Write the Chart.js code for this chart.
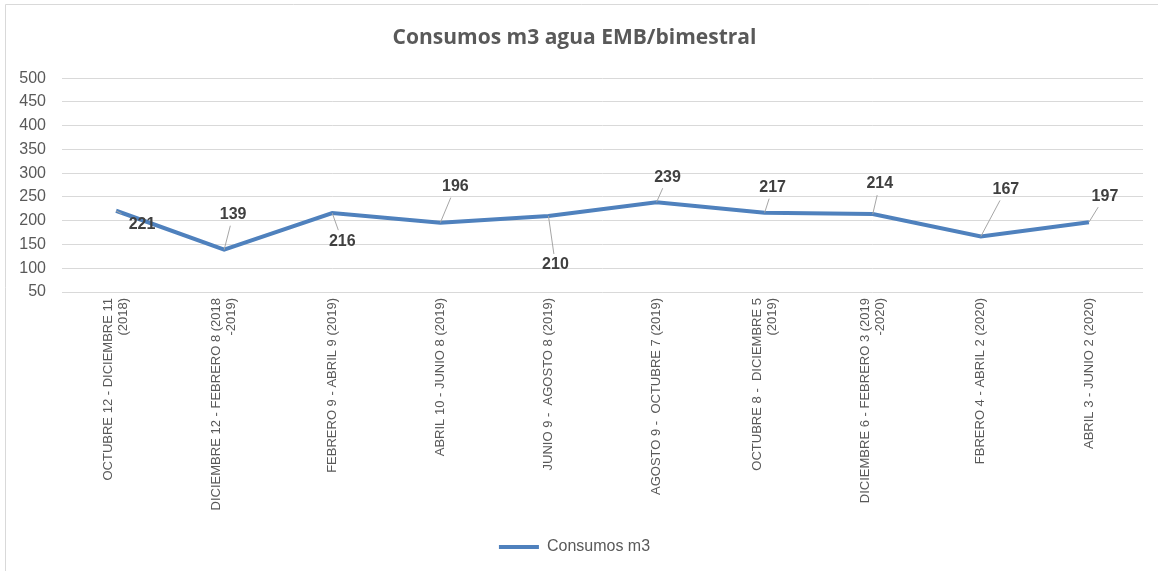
<!DOCTYPE html>
<html>
<head>
<meta charset="utf-8">
<script src="https://cdn.jsdelivr.net/npm/chart.js@4"></script>
<style>
  html, body { margin: 0; padding: 0; background: #fff; }
  #wrap { position: relative; width: 1158px; height: 571px; }
</style>
</head>
<body>
<div id="wrap"><canvas id="chartConsumo" width="1158" height="571"></canvas></div>
<script>
const periodos = [
    ['OCTUBRE 12 - DICIEMBRE 11', '(2018)'],
    ['DICIEMBRE 12 - FEBRERO 8 (2018', '-2019)'],
    ['FEBRERO 9 - ABRIL 9 (2019)'],
    ['ABRIL 10 - JUNIO 8 (2019)'],
    ['JUNIO 9 -  AGOSTO 8 (2019)'],
    ['AGOSTO 9 -  OCTUBRE 7 (2019)'],
    ['OCTUBRE 8 -  DICIEMBRE 5', '(2019)'],
    ['DICIEMBRE 6 - FEBRERO 3 (2019', '-2020)'],
    ['FBRERO 4 - ABRIL 2 (2020)'],
    ['ABRIL 3 - JUNIO 2 (2020)']
];
const consumos = [221, 139, 216, 196, 210, 239, 217, 214, 167, 197];
const yTicks = [50, 100, 150, 200, 250, 300, 350, 400, 450, 500];

// where each value label sits relative to its point (px)
const labelOffsets = [
    [26, 14], [9, -35], [10, 28], [15, -36], [7, 49],
    [11, -25], [8, -25], [7, -30], [25, -47], [16, -26]
];

const lineColor = '#4F81BD';
const textGray = '#595959';
const baseFont = '"Liberation Sans", Arial, sans-serif';

const frame = {
    id: 'frame',
    beforeDraw(chart) {
        const { ctx } = chart;
        ctx.save();
        ctx.fillStyle = '#fff';
        ctx.fillRect(0, 0, chart.width, chart.height);
        ctx.strokeStyle = '#d9d9d9';
        ctx.lineWidth = 1;
        ctx.beginPath();
        ctx.moveTo(5.5, chart.height);
        ctx.lineTo(5.5, 4.5);
        ctx.lineTo(chart.width, 4.5);
        ctx.stroke();
        ctx.restore();
    }
};

// category labels, rotated, with wrapped lines centred on the tick
const periodLabels = {
    id: 'periodLabels',
    afterDraw(chart) {
        const { ctx, chartArea } = chart;
        const xs = chart.scales.x;
        const lh = 15;
        ctx.save();
        ctx.font = '13px ' + baseFont;
        ctx.fillStyle = textGray;
        ctx.textAlign = 'right';
        ctx.textBaseline = 'middle';
        periodos.forEach((lines, i) => {
            const px = xs.getPixelForTick(i);
            lines.forEach((txt, j) => {
                const off = (j - (lines.length - 1) / 2) * lh;
                ctx.save();
                ctx.translate(px + off, chartArea.bottom + 6);
                ctx.rotate(-Math.PI / 2);
                ctx.fillText(txt, 0, 0);
                ctx.restore();
            });
        });
        ctx.restore();
    }
};

const valueLabels = {
    id: 'valueLabels',
    afterDatasetsDraw(chart) {
        const { ctx } = chart;
        const meta = chart.getDatasetMeta(0);
        ctx.save();
        ctx.font = 'bold 16px ' + baseFont;
        ctx.textAlign = 'center';
        ctx.textBaseline = 'middle';
        meta.data.forEach((pt, i) => {
            const [dx, dy] = labelOffsets[i];
            const lx = pt.x + dx, ly = pt.y + dy;
            if (Math.hypot(dx, dy) > 22) {
                const gap = 11;
                ctx.strokeStyle = '#a6a6a6';
                ctx.lineWidth = 1;
                ctx.beginPath();
                ctx.moveTo(pt.x, pt.y);
                ctx.lineTo(lx - dx / Math.abs(dy) * gap, ly - Math.sign(dy) * gap);
                ctx.stroke();
            }
            ctx.fillStyle = '#404040';
            ctx.fillText(String(consumos[i]), lx, ly);
        });
        ctx.restore();
    }
};

new Chart(document.getElementById('chartConsumo'), {
    type: 'line',
    data: {
        labels: periodos.map(l => l.join(' ')),
        datasets: [{
            label: 'Consumos m3',
            data: consumos,
            borderColor: lineColor,
            backgroundColor: lineColor,
            borderWidth: 4,
            pointRadius: 0,
            tension: 0
        }]
    },
    options: {
        responsive: false,
        animation: false,
        layout: { padding: { left: 6, right: 15, top: 0, bottom: 6 } },
        scales: {
            x: {
                offset: true,
                grid: { display: false },
                border: { display: false },
                ticks: { display: false },
                afterFit(scale) { scale.height = 237; }
            },
            y: {
                min: 50,
                max: 500,
                afterBuildTicks(scale) { scale.ticks = yTicks.map(v => ({ value: v })); },
                grid: { color: '#d9d9d9', lineWidth: 1, drawTicks: false },
                border: { display: false },
                ticks: {
                    padding: 16,
                    color: textGray,
                    font: { family: baseFont, size: 16 }
                },
                afterFit(scale) { scale.width = 56; }
            }
        },
        plugins: {
            title: {
                display: true,
                text: 'Consumos m3 agua EMB/bimestral',
                color: textGray,
                font: { family: '"Open Sans", "Liberation Sans", sans-serif', size: 21, weight: 'bold' },
                padding: { top: 25, bottom: 28 }
            },
            legend: {
                position: 'bottom',
                labels: {
                    usePointStyle: true,
                    pointStyle: 'line',
                    pointStyleWidth: 40,
                    color: textGray,
                    font: { family: baseFont, size: 16 },
                    padding: 10
                }
            },
            tooltip: { enabled: false }
        }
    },
    plugins: [frame, periodLabels, valueLabels]
});
</script>
</body>
</html>
